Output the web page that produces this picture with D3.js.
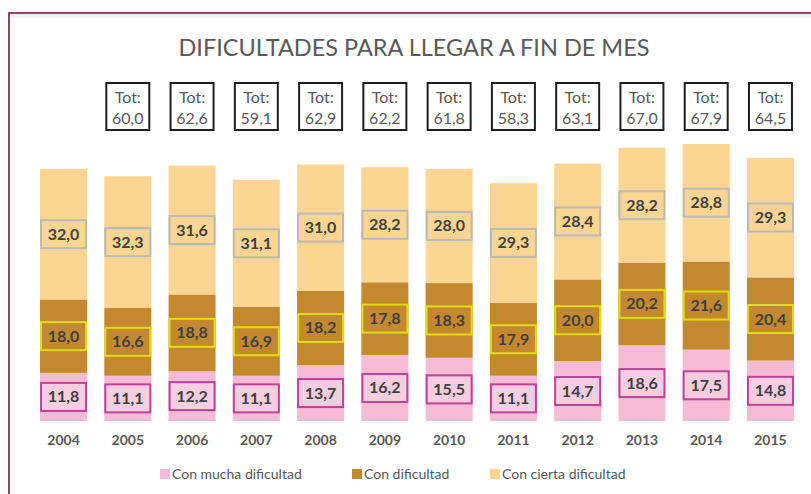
<!DOCTYPE html>
<html>
<head>
<meta charset="utf-8">
<script src="https://cdn.jsdelivr.net/npm/d3@7"></script>
<style>
  html, body { margin: 0; padding: 0; background: #ffffff; }
  svg { display: block; }
  text { font-family: Lato, "Open Sans", sans-serif; }
</style>
</head>
<body>
<svg id="chart" width="811" height="494"></svg>
<script>
const years = ['2004','2005','2006','2007','2008','2009','2010','2011','2012','2013','2014','2015'];
const mucha = [11.8, 11.1, 12.2, 11.1, 13.7, 16.2, 15.5, 11.1, 14.7, 18.6, 17.5, 14.8];
const dificultad = [18.0, 16.6, 18.8, 16.9, 18.2, 17.8, 18.3, 17.9, 20.0, 20.2, 21.6, 20.4];
const cierta = [32.0, 32.3, 31.6, 31.1, 31.0, 28.2, 28.0, 29.3, 28.4, 28.2, 28.8, 29.3];
const totalYears = ['2005','2006','2007','2008','2009','2010','2011','2012','2013','2014','2015'];
const totals = [60.0, 62.6, 59.1, 62.9, 62.2, 61.8, 58.3, 63.1, 67.0, 67.9, 64.5];
const seriesNames = ['Con mucha dificultad', 'Con dificultad', 'Con cierta dificultad'];
const title = 'DIFICULTADES PARA LLEGAR A FIN DE MES';

const colors = ['#f5bbd5', '#c4882e', '#fdd592'];
const labelBorders = ['#c2409c', '#e2dc0a', '#b9b9b9'];
const labelFills = ['#f7cde0', '#c4882e', '#fdd592'];

const svg = d3.select('#chart');
const fmt = v => d3.format('.1f')(v).replace('.', ',');

// frame
svg.append('rect').attr('x', 9).attr('y', 13).attr('width', 811).attr('height', 494)
  .attr('fill', 'none').attr('stroke', '#9e3f66').attr('stroke-width', 2);
svg.append('rect').attr('x', 10).attr('y', 14).attr('width', 801).attr('height', 4)
  .attr('fill', '#f1f1f1');

// title
svg.append('text').attr('x', 414).attr('y', 56).attr('text-anchor', 'middle')
  .attr('font-size', 23.5).attr('fill', '#595959').text(title);

const data = years.map((y, i) => ({year: y, mucha: mucha[i], dificultad: dificultad[i], cierta: cierta[i]}));
const keys = ['mucha', 'dificultad', 'cierta'];
const stacked = d3.stack().keys(keys)(data);

const x = d3.scaleBand().domain(years).range([31.4, 802.6]).paddingInner(0.268).paddingOuter(0.134);
const y = d3.scaleLinear().domain([0, 70]).range([421, 421 - 70 * 4.08]);

const layers = svg.append('g').selectAll('g').data(stacked).join('g')
  .attr('fill', (d, i) => colors[i]);
layers.selectAll('rect').data(d => d).join('rect')
  .attr('x', d => x(d.data.year))
  .attr('y', d => y(d[1]))
  .attr('width', x.bandwidth())
  .attr('height', d => y(d[0]) - y(d[1]));

// segment labels
const lw = 45, lh = 28;
stacked.forEach((layer, li) => {
  const g = svg.append('g');
  layer.forEach(d => {
    const cx = x(d.data.year) + x.bandwidth() / 2;
    const cy = (y(d[0]) + y(d[1])) / 2;
    g.append('rect').attr('x', cx - lw / 2).attr('y', cy - lh / 2)
      .attr('width', lw).attr('height', lh)
      .attr('fill', labelFills[li]).attr('stroke', labelBorders[li]).attr('stroke-width', 2);
    g.append('text').attr('x', cx).attr('y', cy + 5.5).attr('text-anchor', 'middle')
      .attr('font-size', 16).attr('font-weight', 'bold').attr('fill', '#404040')
      .text(fmt(d[1] - d[0]));
  });
});

// total boxes
const tg = svg.append('g');
totalYears.forEach((yr, i) => {
  const cx = x(yr) + x.bandwidth() / 2;
  tg.append('rect').attr('x', cx - 21.5).attr('y', 83).attr('width', 43).attr('height', 47)
    .attr('fill', '#ffffff').attr('stroke', '#1e1e1e').attr('stroke-width', 2);
  tg.append('text').attr('x', cx).attr('y', 103).attr('text-anchor', 'middle')
    .attr('font-size', 16).attr('fill', '#595959').text('Tot:');
  tg.append('text').attr('x', cx).attr('y', 124).attr('text-anchor', 'middle')
    .attr('font-size', 16).attr('fill', '#595959').text(fmt(totals[i]));
});

// x axis
const xAxis = svg.append('g').attr('transform', 'translate(0,421)')
  .call(d3.axisBottom(x).tickSize(0).tickPadding(14));
xAxis.select('.domain').remove();
xAxis.selectAll('text').attr('font-size', 14).attr('font-weight', 'bold')
  .attr('fill', '#595959').attr('font-family', 'Lato, sans-serif');

// legend
const legendX = [160, 352, 490];
const lg = svg.append('g');
seriesNames.forEach((name, i) => {
  lg.append('rect').attr('x', legendX[i]).attr('y', 469).attr('width', 10).attr('height', 10)
    .attr('fill', colors[i]);
  lg.append('text').attr('x', legendX[i] + 12).attr('y', 479).attr('font-size', 14)
    .attr('fill', '#595959').text(name);
});
</script>
</body>
</html>
